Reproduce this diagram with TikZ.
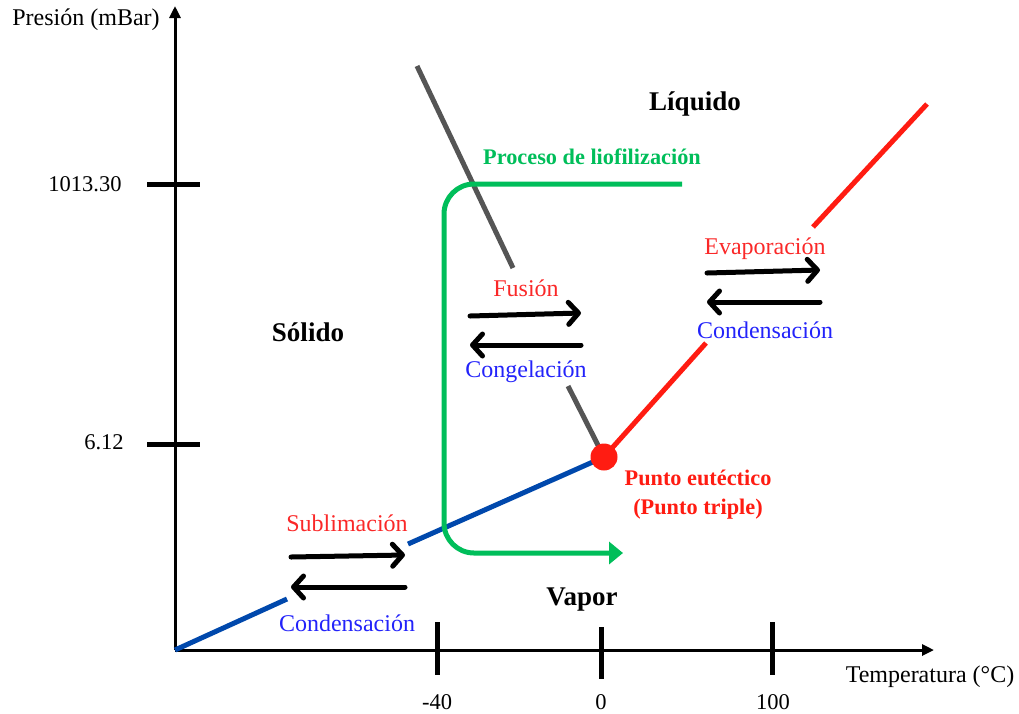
\documentclass[tikz,border=0pt]{standalone}
\usepackage{fontspec}
\setmainfont{Liberation Serif}
\usetikzlibrary{arrows.meta}
\definecolor{cred}{RGB}{255,28,18}
\definecolor{tred}{RGB}{250,40,40}
\definecolor{tblue}{RGB}{35,35,250}
\definecolor{lblue}{RGB}{0,72,172}
\definecolor{cgreen}{RGB}{0,190,90}
\definecolor{cgray}{RGB}{85,85,85}
\tikzset{
  axis/.style={line width=3pt,-{Triangle[length=12pt,width=11pt]}},
  tick/.style={line width=5pt},
  txt/.style={inner sep=0pt,font=\fontsize{24}{28}\selectfont},
  numtxt/.style={inner sep=0pt,font=\fontsize{22.5}{26}\selectfont},
  bigbold/.style={inner sep=0pt,font=\fontsize{27}{32}\selectfont\bfseries},
  medbold/.style={inner sep=0pt,font=\fontsize{22.3}{27}\selectfont\bfseries},
  proc/.style={line width=5pt,line cap=round,-{Straight Barb[length=10pt,width=22pt,round]}},
  phase/.style={line width=5pt},
}
\begin{document}
\begin{tikzpicture}[x=1pt,y=-1pt]
\useasboundingbox (0,0) rectangle (1019,713);
% axes
\coordinate (O) at (175,650);
\coordinate (ytop) at (175,6);
\coordinate (xend) at (934,650);
\draw[axis] (O) -- (ytop);
\draw[axis] (O) -- (xend);
% y ticks
\coordinate (t1a) at (147,184); \coordinate (t1b) at (200,184);
\coordinate (t2a) at (147,444); \coordinate (t2b) at (200,444);
\draw[tick] (t1a) -- (t1b);
\draw[tick] (t2a) -- (t2b);
% x ticks
\coordinate (x1a) at (437,622); \coordinate (x1b) at (437,675);
\coordinate (x2a) at (601,627); \coordinate (x2b) at (601,679);
\coordinate (x3a) at (772,622); \coordinate (x3b) at (772,675);
\draw[tick] (x1a) -- (x1b);
\draw[tick] (x2a) -- (x2b);
\draw[tick] (x3a) -- (x3b);
% axis labels
\node[txt] (ylab) at (86,20) {Presión (mBar)};
\node[numtxt] (v1013) at (85,184) {1013.30};
\node[numtxt] (v612) at (104,442) {6.12};
\node[numtxt] (vm40) at (437,702) {-40};
\node[numtxt] (v0) at (601,702) {0};
\node[numtxt] (v100) at (773,702) {100};
\node[txt] (xlab) at (930,677) {Temperatura (°C)};
% triple point
\coordinate (T) at (604,457);
% solid-vapour line (blue)
\coordinate (b1) at (287,599);
\coordinate (b2) at (408,544);
\draw[phase,lblue] (O) -- (b1);
\draw[phase,lblue] (b2) -- (T);
% solid-liquid line (gray)
\coordinate (g0) at (417,66);
\coordinate (g1) at (513,268);
\coordinate (g2) at (568,386);
\draw[phase,cgray] (g0) -- (g1);
\draw[phase,cgray] (g2) -- (T);
% liquid-vapour line (red)
\coordinate (r1) at (706,343);
\coordinate (r2) at (813,227);
\coordinate (r3) at (927,104);
\draw[phase,cred] (T) -- (r1);
\draw[phase,cred] (r2) -- (r3);
% lyophilization path
\coordinate (p0) at (682,184);
\coordinate (p1) at (444,184);
\coordinate (p2) at (444,553);
\coordinate (p3) at (623,553);
\draw[line width=5pt,cgreen,rounded corners=30pt,-{Triangle[length=14pt,width=22pt]}] (p0) -- (p1) -- (p2) -- (p3);
\fill[cred] (T) circle (13.5pt);
% region labels
\node[bigbold] (liq) at (695,104) {Líquido};
\node[medbold,text=cgreen] (proc) at (592,157) {Proceso de liofilización};
\node[bigbold] (sol) at (308,332) {Sólido};
\node[bigbold] (vap) at (582,600) {Vapor};
\node[medbold,text=cred] (pe1) at (698,478) {Punto eutéctico};
\node[medbold,text=cred] (pe2) at (698,509) {(Punto triple)};
% fusion / congelation
\node[txt,text=tred] (fus) at (526,288) {Fusión};
\node[txt,text=tblue] (cong) at (526,372) {Congelación};
\coordinate (f1) at (470,316); \coordinate (f2) at (581,313);
\coordinate (f3) at (581,345); \coordinate (f4) at (470,345);
\draw[proc] (f1) -- (f2);
\draw[proc] (f3) -- (f4);
% evaporation / condensation
\node[txt,text=tred] (evap) at (765,249) {Evaporación};
\node[txt,text=tblue] (cond1) at (765,330) {Condensación};
\coordinate (e1) at (707,273); \coordinate (e2) at (820,270);
\coordinate (e3) at (820,302); \coordinate (e4) at (707,302);
\draw[proc] (e1) -- (e2);
\draw[proc] (e3) -- (e4);
% sublimation / condensation
\node[txt,text=tred] (subl) at (347,523) {Sublimación};
\node[txt,text=tblue] (cond2) at (347,623) {Condensación};
\coordinate (s1) at (291,557); \coordinate (s2) at (405,555);
\coordinate (s3) at (405,587); \coordinate (s4) at (291,587);
\draw[proc] (s1) -- (s2);
\draw[proc] (s3) -- (s4);
\end{tikzpicture}
\end{document}
